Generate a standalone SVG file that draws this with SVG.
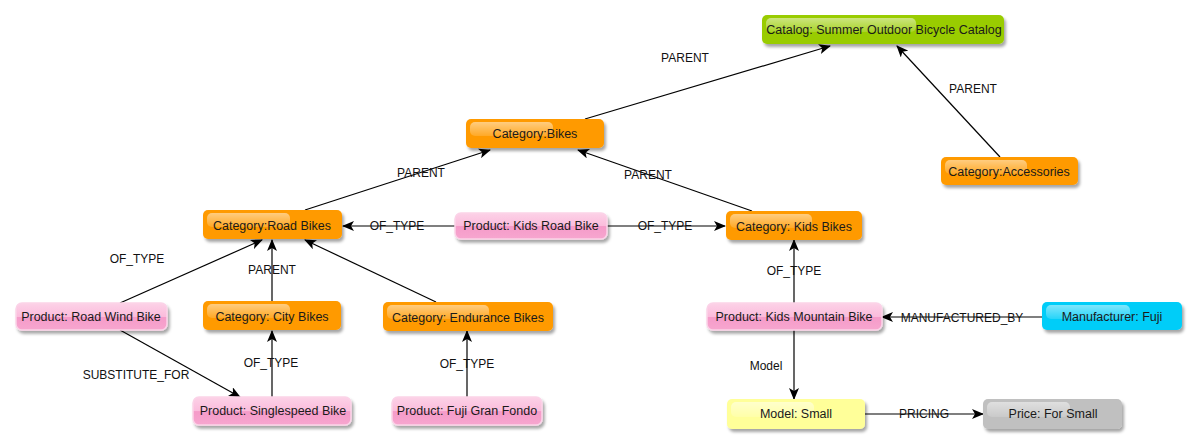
<svg xmlns="http://www.w3.org/2000/svg" width="1196" height="444" viewBox="0 0 1196 444">
<defs>
<filter id="sh" x="-10%" y="-20%" width="130%" height="160%">
<feDropShadow dx="2" dy="3" stdDeviation="1.5" flood-color="#000" flood-opacity="0.35"/>
</filter>
<linearGradient id="gloss" x1="0" y1="0" x2="0" y2="1">
<stop offset="0" stop-color="#fff" stop-opacity="0.5"/>
<stop offset="1" stop-color="#fff" stop-opacity="0.15"/>
</linearGradient>
<linearGradient id="pink" x1="0" y1="0" x2="0" y2="1">
<stop offset="0" stop-color="#fcd2e7"/>
<stop offset="0.5" stop-color="#fbbcdc"/>
<stop offset="0.52" stop-color="#f59bc9"/>
<stop offset="1" stop-color="#f7a6cf"/>
</linearGradient>
<marker id="arr" viewBox="0 0 12 10" refX="11" refY="5" markerWidth="12" markerHeight="10" markerUnits="userSpaceOnUse" orient="auto">
<path d="M0,0 L12,5 L0,10 L3,5 z" fill="#000"/>
</marker>
</defs>
<style>
text{font-family:"Liberation Sans",Arial,sans-serif;font-size:12px;fill:#222}
.nt{text-anchor:middle;font-size:12.5px;fill:#1a1a1a}
.el{text-anchor:middle;fill:#111}
.edge{stroke:#000;stroke-width:1.2;fill:none;marker-end:url(#arr)}
.box{filter:url(#sh)}
.orange{fill:#ff9a00}
.green{fill:#99cc00}
.cyan{fill:#00cdf8}
.yellow{fill:#ffff99}
.gray{fill:#c0c0c0}
.pinkb{fill:url(#pink);stroke:#fbd3e8;stroke-width:1.5}
.gl{fill:url(#gloss)}
</style>
<rect width="1196" height="444" fill="#fff"/>
<g id="connectors">
<line class="edge" x1="585" y1="119" x2="830" y2="46"/>
<line class="edge" x1="1000" y1="157" x2="897" y2="46"/>
<line class="edge" x1="305" y1="210" x2="490" y2="150"/>
<line class="edge" x1="752" y1="211" x2="578" y2="150"/>
<line class="edge" x1="455" y1="226" x2="343" y2="226"/>
<line class="edge" x1="607" y1="226" x2="725" y2="226"/>
<line class="edge" x1="120" y1="303" x2="262" y2="240"/>
<line class="edge" x1="272" y1="301" x2="272" y2="240"/>
<line class="edge" x1="436" y1="302" x2="305" y2="240"/>
<line class="edge" x1="120" y1="330" x2="240" y2="397"/>
<line class="edge" x1="272" y1="397" x2="272" y2="331"/>
<line class="edge" x1="467" y1="397" x2="467" y2="331"/>
<line class="edge" x1="794" y1="303" x2="794" y2="240"/>
<line class="edge" x1="1042" y1="317" x2="882" y2="317"/>
<line class="edge" x1="794" y1="330" x2="794" y2="399"/>
<line class="edge" x1="865" y1="414" x2="983" y2="414"/>
<text class="el" x="685" y="62">PARENT</text>
<text class="el" x="973" y="93">PARENT</text>
<text class="el" x="421" y="177">PARENT</text>
<text class="el" x="648" y="179">PARENT</text>
<text class="el" x="397" y="230">OF_TYPE</text>
<text class="el" x="665" y="230">OF_TYPE</text>
<text class="el" x="137" y="263">OF_TYPE</text>
<text class="el" x="272" y="274">PARENT</text>
<text class="el" x="136" y="379">SUBSTITUTE_FOR</text>
<text class="el" x="271" y="367">OF_TYPE</text>
<text class="el" x="467" y="368">OF_TYPE</text>
<text class="el" x="794" y="275">OF_TYPE</text>
<text class="el" x="962" y="322">MANUFACTURED_BY</text>
<text class="el" x="766" y="370">Model</text>
<text class="el" x="924" y="418">PRICING</text>
</g>
<g id="catalog">
<rect class="box green" x="762" y="15" width="242" height="29" rx="5"/>
<rect class="gl" x="766" y="18" width="150" height="14" rx="5"/>
<text class="nt" x="884" y="34">Catalog: Summer Outdoor Bicycle Catalog</text>
</g>
<g id="cat-bikes">
<rect class="box orange" x="466" y="119" width="138" height="29" rx="5"/>
<rect class="gl" x="470" y="122" width="83" height="14" rx="5"/>
<text class="nt" x="535" y="138">Category:Bikes</text>
</g>
<g id="cat-accessories">
<rect class="box orange" x="941" y="157" width="137" height="28" rx="5"/>
<rect class="gl" x="945" y="160" width="82" height="14" rx="5"/>
<text class="nt" x="1009" y="176">Category:Accessories</text>
</g>
<g id="cat-road">
<rect class="box orange" x="203" y="210" width="139" height="29" rx="5"/>
<rect class="gl" x="207" y="213" width="83" height="14" rx="5"/>
<text class="nt" x="272" y="230">Category:Road Bikes</text>
</g>
<g id="prod-kids-road">
<rect class="box pinkb" x="455" y="213" width="152" height="26" rx="6"/>
<text class="nt" x="531" y="230">Product: Kids Road Bike</text>
</g>
<g id="cat-kids">
<rect class="box orange" x="726" y="211" width="136" height="29" rx="5"/>
<rect class="gl" x="730" y="214" width="82" height="14" rx="5"/>
<text class="nt" x="794" y="231">Category: Kids Bikes</text>
</g>
<g id="prod-road-wind">
<rect class="box pinkb" x="16" y="303" width="151" height="27" rx="6"/>
<text class="nt" x="91" y="321">Product: Road Wind Bike</text>
</g>
<g id="cat-city">
<rect class="box orange" x="203" y="301" width="138" height="29" rx="5"/>
<rect class="gl" x="207" y="304" width="83" height="14" rx="5"/>
<text class="nt" x="272" y="321">Category: City Bikes</text>
</g>
<g id="cat-endurance">
<rect class="box orange" x="383" y="302" width="170" height="29" rx="5"/>
<rect class="gl" x="387" y="305" width="102" height="14" rx="5"/>
<text class="nt" x="468" y="322">Category: Endurance Bikes</text>
</g>
<g id="prod-kids-mountain">
<rect class="box pinkb" x="707" y="303" width="175" height="27" rx="6"/>
<text class="nt" x="794" y="321">Product: Kids Mountain Bike</text>
</g>
<g id="manufacturer">
<rect class="box cyan" x="1042" y="302" width="140" height="28" rx="5"/>
<rect class="gl" x="1046" y="305" width="84" height="14" rx="5"/>
<text class="nt" x="1112" y="321">Manufacturer: Fuji</text>
</g>
<g id="prod-singlespeed">
<rect class="box pinkb" x="193" y="397" width="158" height="28" rx="6"/>
<text class="nt" x="273" y="415">Product: Singlespeed Bike</text>
</g>
<g id="prod-fuji">
<rect class="box pinkb" x="392" y="397" width="150" height="28" rx="6"/>
<text class="nt" x="467" y="415">Product: Fuji Gran Fondo</text>
</g>
<g id="model-small">
<rect class="box yellow" x="727" y="399" width="138" height="30" rx="5"/>
<rect class="gl" x="731" y="402" width="83" height="15" rx="5"/>
<text class="nt" x="796" y="418">Model: Small</text>
</g>
<g id="price-small">
<rect class="box gray" x="983" y="399" width="139" height="30" rx="5"/>
<rect class="gl" x="987" y="402" width="83" height="15" rx="5"/>
<text class="nt" x="1053" y="418">Price: For Small</text>
</g>
</svg>
